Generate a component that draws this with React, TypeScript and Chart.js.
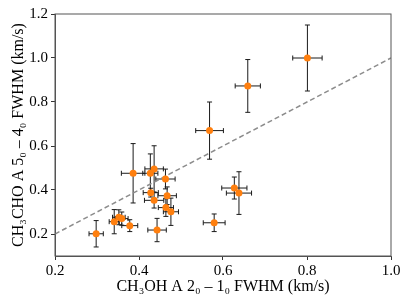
import React, { useEffect, useRef } from "react";
import { Chart, registerables } from "chart.js";

Chart.register(...registerables);

const xVals = [0.801, 0.659, 0.568, 0.627, 0.638, 0.579, 0.298, 0.341, 0.352, 0.359, 0.378, 0.386, 0.427, 0.436, 0.463, 0.428, 0.467, 0.436, 0.464, 0.476, 0.443];
const yVals = [1.0, 0.873, 0.67, 0.409, 0.386, 0.251, 0.201, 0.256, 0.276, 0.27, 0.238, 0.476, 0.476, 0.496, 0.45, 0.388, 0.374, 0.353, 0.32, 0.301, 0.218];
const xErr = [0.035, 0.03, 0.033, 0.03, 0.03, 0.026, 0.017, 0.012, 0.015, 0.015, 0.019, 0.028, 0.018, 0.022, 0.023, 0.018, 0.022, 0.023, 0.018, 0.018, 0.022];
const yErr = [0.15, 0.12, 0.13, 0.05, 0.097, 0.04, 0.06, 0.055, 0.034, 0.03, 0.027, 0.135, 0.088, 0.105, 0.045, 0.02, 0.04, 0.035, 0.04, 0.062, 0.053];
const refLineX = [0.2, 1.0];
const refLineY = [0.2, 1.0];
const xTicks = [0.2, 0.4, 0.6, 0.8, 1.0];
const yTicks = [0.2, 0.4, 0.6, 0.8, 1.0, 1.2];
const xTitle = "CH\u2083OH A 2\u2080 \u2013 1\u2080 FWHM (km/s)";
const yTitle = "CH\u2083CHO A 5\u2080 \u2013 4\u2080 FWHM (km/s)";

const FONT = "'Liberation Serif', 'DejaVu Serif', serif";

const errorBarPlugin = {
  id: "errorBars",
  beforeDatasetsDraw(chart: any) {
    const ctx = chart.ctx;
    const xs = chart.scales.x;
    const ys = chart.scales.y;
    const cap = 2.5;
    ctx.save();
    ctx.strokeStyle = "#1a1a1a";
    ctx.lineWidth = 1;
    for (let i = 0; i < xVals.length; i++) {
      const cx = xs.getPixelForValue(xVals[i]);
      const cy = ys.getPixelForValue(yVals[i]);
      const x0 = xs.getPixelForValue(xVals[i] - xErr[i]);
      const x1 = xs.getPixelForValue(xVals[i] + xErr[i]);
      const y0 = ys.getPixelForValue(yVals[i] - yErr[i]);
      const y1 = ys.getPixelForValue(yVals[i] + yErr[i]);
      ctx.beginPath();
      ctx.moveTo(x0, cy);
      ctx.lineTo(x1, cy);
      ctx.moveTo(x0, cy - cap);
      ctx.lineTo(x0, cy + cap);
      ctx.moveTo(x1, cy - cap);
      ctx.lineTo(x1, cy + cap);
      ctx.moveTo(cx, y0);
      ctx.lineTo(cx, y1);
      ctx.moveTo(cx - cap, y0);
      ctx.lineTo(cx + cap, y0);
      ctx.moveTo(cx - cap, y1);
      ctx.lineTo(cx + cap, y1);
      ctx.stroke();
    }
    ctx.restore();
  },
  afterDraw(chart: any) {
    const { ctx, chartArea } = chart;
    ctx.save();
    ctx.strokeStyle = "#555";
    ctx.lineWidth = 1;
    ctx.strokeRect(chartArea.left, chartArea.top, chartArea.right - chartArea.left, chartArea.bottom - chartArea.top);
    ctx.restore();
  },
};

export default function App() {
  const ref = useRef<HTMLCanvasElement | null>(null);
  useEffect(() => {
    if (!ref.current) return;
    const chart = new Chart(ref.current, {
      type: "scatter",
      data: {
        datasets: [
          {
            label: "points",
            data: xVals.map((x, i) => ({ x, y: yVals[i] })),
            backgroundColor: "#ff7f0e",
            borderColor: "#ff7f0e",
            pointRadius: 3.5,
            borderWidth: 0,
            order: 1,
          },
          {
            type: "line",
            label: "ref",
            data: refLineX.map((x, i) => ({ x, y: refLineY[i] })),
            borderColor: "#8c8c8c",
            borderWidth: 1.5,
            borderDash: [5, 3],
            pointRadius: 0,
            fill: false,
            order: 2,
          } as any,
        ],
      },
      options: {
        responsive: false,
        animation: false,
        layout: { padding: { top: 14, right: 18, left: 0, bottom: 0 } },
        plugins: { legend: { display: false }, tooltip: { enabled: false } },
        scales: {
          x: {
            type: "linear",
            min: 0.2,
            max: 1.0,
            afterBuildTicks: (s: any) => { s.ticks = xTicks.map((v) => ({ value: v })); },
            afterFit: (s: any) => { s.height = 50; },
            grid: { drawOnChartArea: false, drawTicks: true, tickLength: 4, color: "#333" },
            border: { display: true, color: "#555", width: 1 },
            ticks: { color: "#000", font: { family: FONT, size: 15 }, padding: 2, maxRotation: 0, callback: (v: any) => Number(v).toFixed(1) },
            title: { display: true, text: xTitle, color: "#000", font: { family: FONT, size: 16 }, padding: { top: 2, bottom: 10 } },
          },
          y: {
            type: "linear",
            min: 0.1,
            max: 1.2,
            afterBuildTicks: (s: any) => { s.ticks = yTicks.map((v) => ({ value: v })); },
            afterFit: (s: any) => { s.width = 55; },
            grid: { drawOnChartArea: false, drawTicks: true, tickLength: 4, color: "#333" },
            border: { display: true, color: "#555", width: 1 },
            ticks: { color: "#000", font: { family: FONT, size: 15 }, padding: 3, callback: (v: any) => Number(v).toFixed(1) },
            title: { display: true, text: yTitle, color: "#000", font: { family: FONT, size: 16 }, padding: { top: 9, bottom: 0 } },
          },
        },
      },
      plugins: [errorBarPlugin],
    });
    return () => chart.destroy();
  }, []);
  return (
    <div style={{ position: "fixed", left: 0, top: 0, width: 409, height: 306, background: "#fff" }}>
      <canvas ref={ref} width={409} height={306} style={{ width: 409, height: 306 }} />
    </div>
  );
}
